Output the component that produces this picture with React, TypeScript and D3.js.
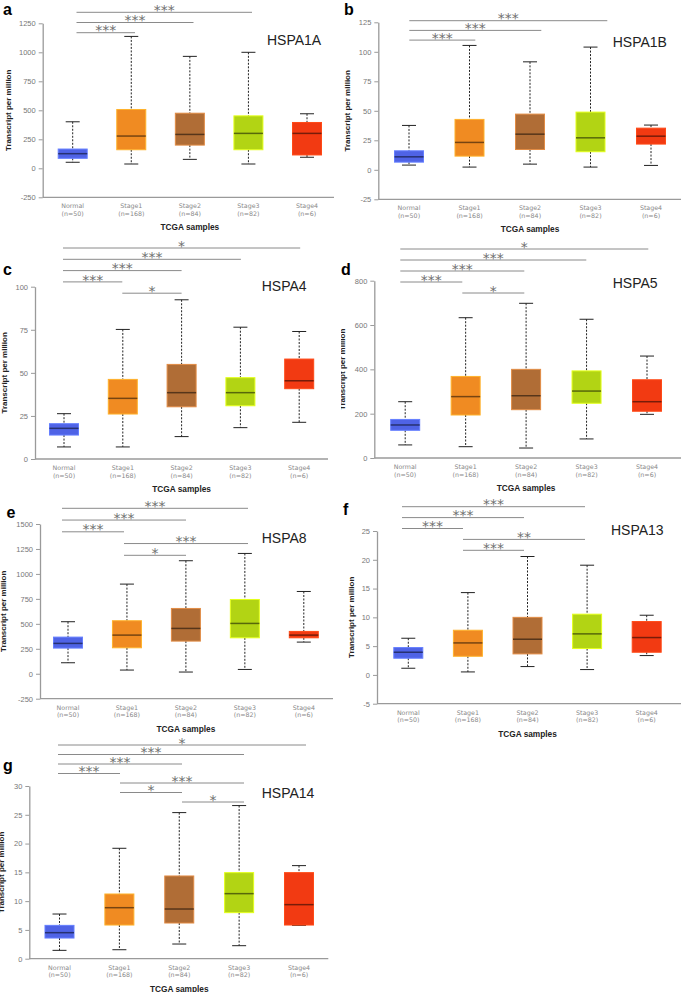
import React, { useRef, useEffect } from 'react';
import * as d3 from 'd3';

const categories = ["Normal", "Stage1", "Stage2", "Stage3", "Stage4"];
const sampleSizes = ["(n=50)", "(n=168)", "(n=84)", "(n=82)", "(n=6)"];
const boxColors = ["#4f63e6", "#f08b22", "#b06d36", "#b2d414", "#f23a12"];

// [min, q1, median, q3, max] for each category
const hspa1a = [[52, 86, 126, 166, 401], [37, 160, 278, 507, 1137], [77, 200, 292, 475, 965], [37, 160, 301, 452, 1000], [95, 115, 301, 395, 470]];
const hspa1b = [[4, 6.5, 11, 16.1, 37.6], [2.3, 11.6, 23.2, 42.7, 105.4], [4.8, 17.2, 30.2, 47.2, 91.5], [2.3, 15.3, 27.1, 48.9, 104], [3.7, 21.8, 28.5, 35.3, 37.9]];
const hspa4 = [[7, 13.9, 17.8, 20.5, 26.3], [7, 26.1, 35.2, 46.2, 75.2], [13, 30.3, 38.5, 54.9, 92.4], [18.2, 30.9, 38.5, 47.2, 76.5], [21.3, 40.8, 45.4, 58, 74]];
const hspa5 = [[59, 125, 149, 174, 254], [51, 194, 277, 368, 633], [45, 218, 281, 400, 698], [86, 247, 302, 393, 626], [197, 211, 254, 353, 460]];
const hspa8 = [[110, 257, 304, 367, 521], [37, 260, 387, 531, 898], [17, 327, 454, 654, 1132], [43, 360, 504, 744, 1205], [317, 360, 387, 424, 824]];
const hspa13 = [[1.16, 2.9, 3.94, 4.75, 6.37], [0.52, 3.24, 5.56, 7.76, 14.3], [1.45, 3.65, 6.2, 10, 20.57], [0.93, 4.58, 7.13, 10.55, 19.06], [3.36, 3.94, 6.49, 9.27, 10.37]];
const hspa14 = [[1.45, 3.59, 4.52, 5.79, 7.76], [1.56, 5.85, 8.86, 11.24, 19.18], [2.55, 6.2, 8.63, 14.37, 25.38], [2.26, 8, 11.3, 14.95, 26.6], [5.79, 5.85, 9.39, 14.95, 16.17]];

const ticksA = [-250, 0, 250, 500, 750, 1000, 1250];
const ticksB = [-25, 0, 25, 50, 75, 100, 125];
const ticksC = [0, 25, 50, 75, 100];
const ticksD = [0, 200, 400, 600, 800];
const ticksE = [-250, 0, 250, 500, 750, 1000, 1250, 1500];
const ticksF = [-5, 0, 5, 10, 15, 20, 25];
const ticksG = [0, 5, 10, 15, 20, 25, 30];

// significance: [from, to, label], top row first
const sigA: [number, number, string][] = [[0, 3, "***"], [0, 2, "***"], [0, 1, "***"]];
const sigB: [number, number, string][] = [[0, 3, "***"], [0, 2, "***"], [0, 1, "***"]];
const sigC: [number, number, string][] = [[0, 4, "*"], [0, 3, "***"], [0, 2, "***"], [0, 1, "***"], [1, 2, "*"]];
const sigD: [number, number, string][] = [[0, 4, "*"], [0, 3, "***"], [0, 2, "***"], [0, 1, "***"], [1, 2, "*"]];
const sigE: [number, number, string][] = [[0, 3, "***"], [0, 2, "***"], [0, 1, "***"], [1, 3, "***"], [1, 2, "*"]];
const sigF: [number, number, string][] = [[0, 3, "***"], [0, 2, "***"], [0, 1, "***"], [1, 3, "**"], [1, 2, "***"]];
const sigG: [number, number, string][] = [[0, 4, "*"], [0, 3, "***"], [0, 2, "***"], [0, 1, "***"], [1, 3, "***"], [1, 2, "*"], [2, 3, "*"]];

const panels = [
  { letter: "a", gene: "HSPA1A", stats: hspa1a, ticks: ticksA, sig: sigA, axisX: 42.7, right: 334, top: 23.3, bottom: 197.3, c0: 72.7, c4: 307, s0: 76.5, step: 58.5, sigTop: 12.3, sigGap: 10.2, lx: 3, ly: 15, gx: 267, gy: 45, ylx: 10.5, clip: 0 },
  { letter: "b", gene: "HSPA1B", stats: hspa1b, ticks: ticksB, sig: sigB, axisX: 378.3, right: 681, top: 22.3, bottom: 199.3, c0: 409, c4: 651, s0: 409.3, step: 66, sigTop: 20.7, sigGap: 9.7, lx: 344, ly: 15, gx: 612.7, gy: 47, ylx: 349.5, clip: 341 },
  { letter: "c", gene: "HSPA4", stats: hspa4, ticks: ticksC, sig: sigC, axisX: 35, right: 328, top: 286.7, bottom: 459, c0: 64, c4: 299.2, s0: 63, step: 59.3, sigTop: 248, sigGap: 11.3, lx: 3, ly: 275, gx: 261.7, gy: 290.5, ylx: 7, clip: 0 },
  { letter: "d", gene: "HSPA5", stats: hspa5, ticks: ticksD, sig: sigD, axisX: 374.3, right: 681, top: 280.7, bottom: 458, c0: 405.2, c4: 647, s0: 400.3, step: 62, sigTop: 249, sigGap: 11, lx: 341, ly: 275, gx: 612.7, gy: 288, ylx: 344.5, clip: 341 },
  { letter: "e", gene: "HSPA8", stats: hspa8, ticks: ticksE, sig: sigE, axisX: 40, right: 333, top: 524, bottom: 698.7, c0: 68, c4: 303.8, s0: 62, step: 62, sigTop: 508.3, sigGap: 11.75, lx: 6.5, ly: 518, gx: 261.7, gy: 542.5, ylx: 6, clip: 0 },
  { letter: "f", gene: "HSPA13", stats: hspa13, ticks: ticksF, sig: sigF, axisX: 377, right: 681, top: 531, bottom: 703.7, c0: 408.3, c4: 646.7, s0: 402, step: 61, sigTop: 506.7, sigGap: 10.9, lx: 343, ly: 515, gx: 611, gy: 534.7, ylx: 353.5, clip: 341 },
  { letter: "g", gene: "HSPA14", stats: hspa14, ticks: ticksG, sig: sigG, axisX: 29.3, right: 328.3, top: 786, bottom: 958.7, c0: 59.5, c4: 299, s0: 58, step: 62, sigTop: 745, sigGap: 9.5, lx: 3, ly: 771, gx: 261.7, gy: 798, ylx: 3.5, clip: 0 },
];

const SANS = '"Liberation Sans", Arial, sans-serif';
const boxW = 29;
const capW = 14;

function App() {
  const rootRef = useRef<SVGSVGElement>(null);

  useEffect(() => {
    document.body.style.margin = '0';
    const root = d3.select(rootRef.current);
    root.selectAll('*').remove();
    const defs = root.append('defs');

    panels.forEach((p, pi) => {
      const g = root.append('g');
      const y = d3.scaleLinear()
        .domain([p.ticks[0], p.ticks[p.ticks.length - 1]])
        .range([p.bottom, p.top]);
      const x = d3.scalePoint<string>().domain(categories).range([p.c0, p.c4]);
      const ax = d3.scaleLinear().domain([0, 4]).range([p.s0, p.s0 + 4 * p.step]);

      // y axis
      const yAxis = d3.axisLeft(y).tickValues(p.ticks).tickFormat(d => String(d))
        .tickSize(4).tickPadding(3).tickSizeOuter(0);
      const ya = g.append('g').attr('transform', `translate(${p.axisX},0)`).call(yAxis);
      ya.attr('font-size', null).attr('font-family', null);
      ya.select('.domain').attr('stroke', '#9a9a9a').attr('stroke-width', 1.3);
      ya.selectAll('.tick line').attr('stroke', '#9a9a9a');
      ya.selectAll('.tick text')
        .attr('fill', '#777')
        .style('font-family', SANS)
        .style('font-size', '7.5px');

      // x axis line
      g.append('line')
        .attr('x1', p.axisX).attr('x2', p.right)
        .attr('y1', p.bottom).attr('y2', p.bottom)
        .attr('stroke', '#9a9a9a').attr('stroke-width', 1.3);

      // category labels
      const cl = g.append('g')
        .style('font-family', '"DejaVu Sans", sans-serif')
        .style('font-size', '6.3px')
        .attr('fill', '#888')
        .attr('text-anchor', 'middle');
      cl.selectAll('text.cat').data(categories).join('text')
        .attr('class', 'cat')
        .attr('x', d => x(d) as number)
        .attr('y', p.bottom + 10.8)
        .text(d => d);
      cl.selectAll('text.n').data(sampleSizes).join('text')
        .attr('class', 'n')
        .attr('x', (d, i) => x(categories[i]) as number)
        .attr('y', p.bottom + 18.5)
        .text(d => d);

      g.append('text')
        .attr('x', (p.c0 + p.c4) / 2)
        .attr('y', p.bottom + 33)
        .attr('text-anchor', 'middle')
        .style('font-family', SANS)
        .style('font-size', '8.3px')
        .style('font-weight', 'bold')
        .attr('fill', '#222')
        .text('TCGA samples');

      // y label
      const ylab = g.append('g');
      if (p.clip) {
        defs.append('clipPath').attr('id', 'clip' + pi)
          .append('rect').attr('x', p.clip).attr('y', 0).attr('width', 400).attr('height', 992);
        ylab.attr('clip-path', `url(#clip${pi})`);
      }
      ylab.append('text')
        .attr('transform', `translate(${p.ylx},${(p.top + p.bottom) / 2}) rotate(-90)`)
        .attr('text-anchor', 'middle')
        .style('font-family', SANS)
        .style('font-size', '8px')
        .style('font-weight', 'bold')
        .attr('fill', '#222')
        .text('Transcript per million');

      // boxes
      const boxes = g.selectAll('g.box').data(p.stats).join('g').attr('class', 'box')
        .attr('transform', (d, i) => `translate(${x(categories[i])},0)`);
      boxes.append('line')
        .attr('y1', d => y(d[4])).attr('y2', d => y(d[3]))
        .attr('stroke', '#222').attr('stroke-dasharray', '2,1.5');
      boxes.append('line')
        .attr('y1', d => y(d[1])).attr('y2', d => y(d[0]))
        .attr('stroke', '#222').attr('stroke-dasharray', '2,1.5');
      boxes.append('line')
        .attr('x1', -capW / 2).attr('x2', capW / 2)
        .attr('y1', d => y(d[4])).attr('y2', d => y(d[4]))
        .attr('stroke', '#222');
      boxes.append('line')
        .attr('x1', -capW / 2).attr('x2', capW / 2)
        .attr('y1', d => y(d[0])).attr('y2', d => y(d[0]))
        .attr('stroke', '#222');
      boxes.append('rect')
        .attr('x', -boxW / 2).attr('width', boxW)
        .attr('y', d => y(d[3]))
        .attr('height', d => y(d[1]) - y(d[3]))
        .attr('fill', (d, i) => boxColors[i])
        .attr('stroke', (d, i) => d3.color(boxColors[i])!.brighter(0.7).formatHex())
        .attr('stroke-width', 1);
      boxes.append('line')
        .attr('x1', -boxW / 2).attr('x2', boxW / 2)
        .attr('y1', d => y(d[2])).attr('y2', d => y(d[2]))
        .attr('stroke', (d, i) => d3.color(boxColors[i])!.darker(2).formatHex())
        .attr('stroke-width', 1.5);

      // significance bars
      const sg = g.selectAll('g.sig').data(p.sig).join('g').attr('class', 'sig');
      sg.append('line')
        .attr('x1', d => ax(d[0])).attr('x2', d => ax(d[1]))
        .attr('y1', (d, k) => p.sigTop + k * p.sigGap)
        .attr('y2', (d, k) => p.sigTop + k * p.sigGap)
        .attr('stroke', '#8a8a8a').attr('stroke-width', 1);
      sg.append('text')
        .attr('x', d => (ax(d[0]) + ax(d[1])) / 2)
        .attr('y', (d, k) => p.sigTop + k * p.sigGap + 2.6)
        .attr('text-anchor', 'middle')
        .style('font-family', '"DejaVu Sans", sans-serif')
        .style('font-size', '14px')
        .attr('fill', '#707070')
        .text(d => d[2]);

      // gene name and panel letter
      g.append('text')
        .attr('x', p.gx).attr('y', p.gy)
        .style('font-family', SANS)
        .style('font-size', '14px')
        .attr('fill', '#222')
        .text(p.gene);
      g.append('text')
        .attr('x', p.lx).attr('y', p.ly)
        .style('font-family', SANS)
        .style('font-size', '16px')
        .style('font-weight', 'bold')
        .attr('fill', '#000')
        .text(p.letter);
    });
  });

  return (
    <div style={{ width: 682, height: 992 }}>
      <svg ref={rootRef} width={682} height={992} style={{ display: 'block', background: '#fff' }}></svg>
    </div>
  );
}

export default App;
